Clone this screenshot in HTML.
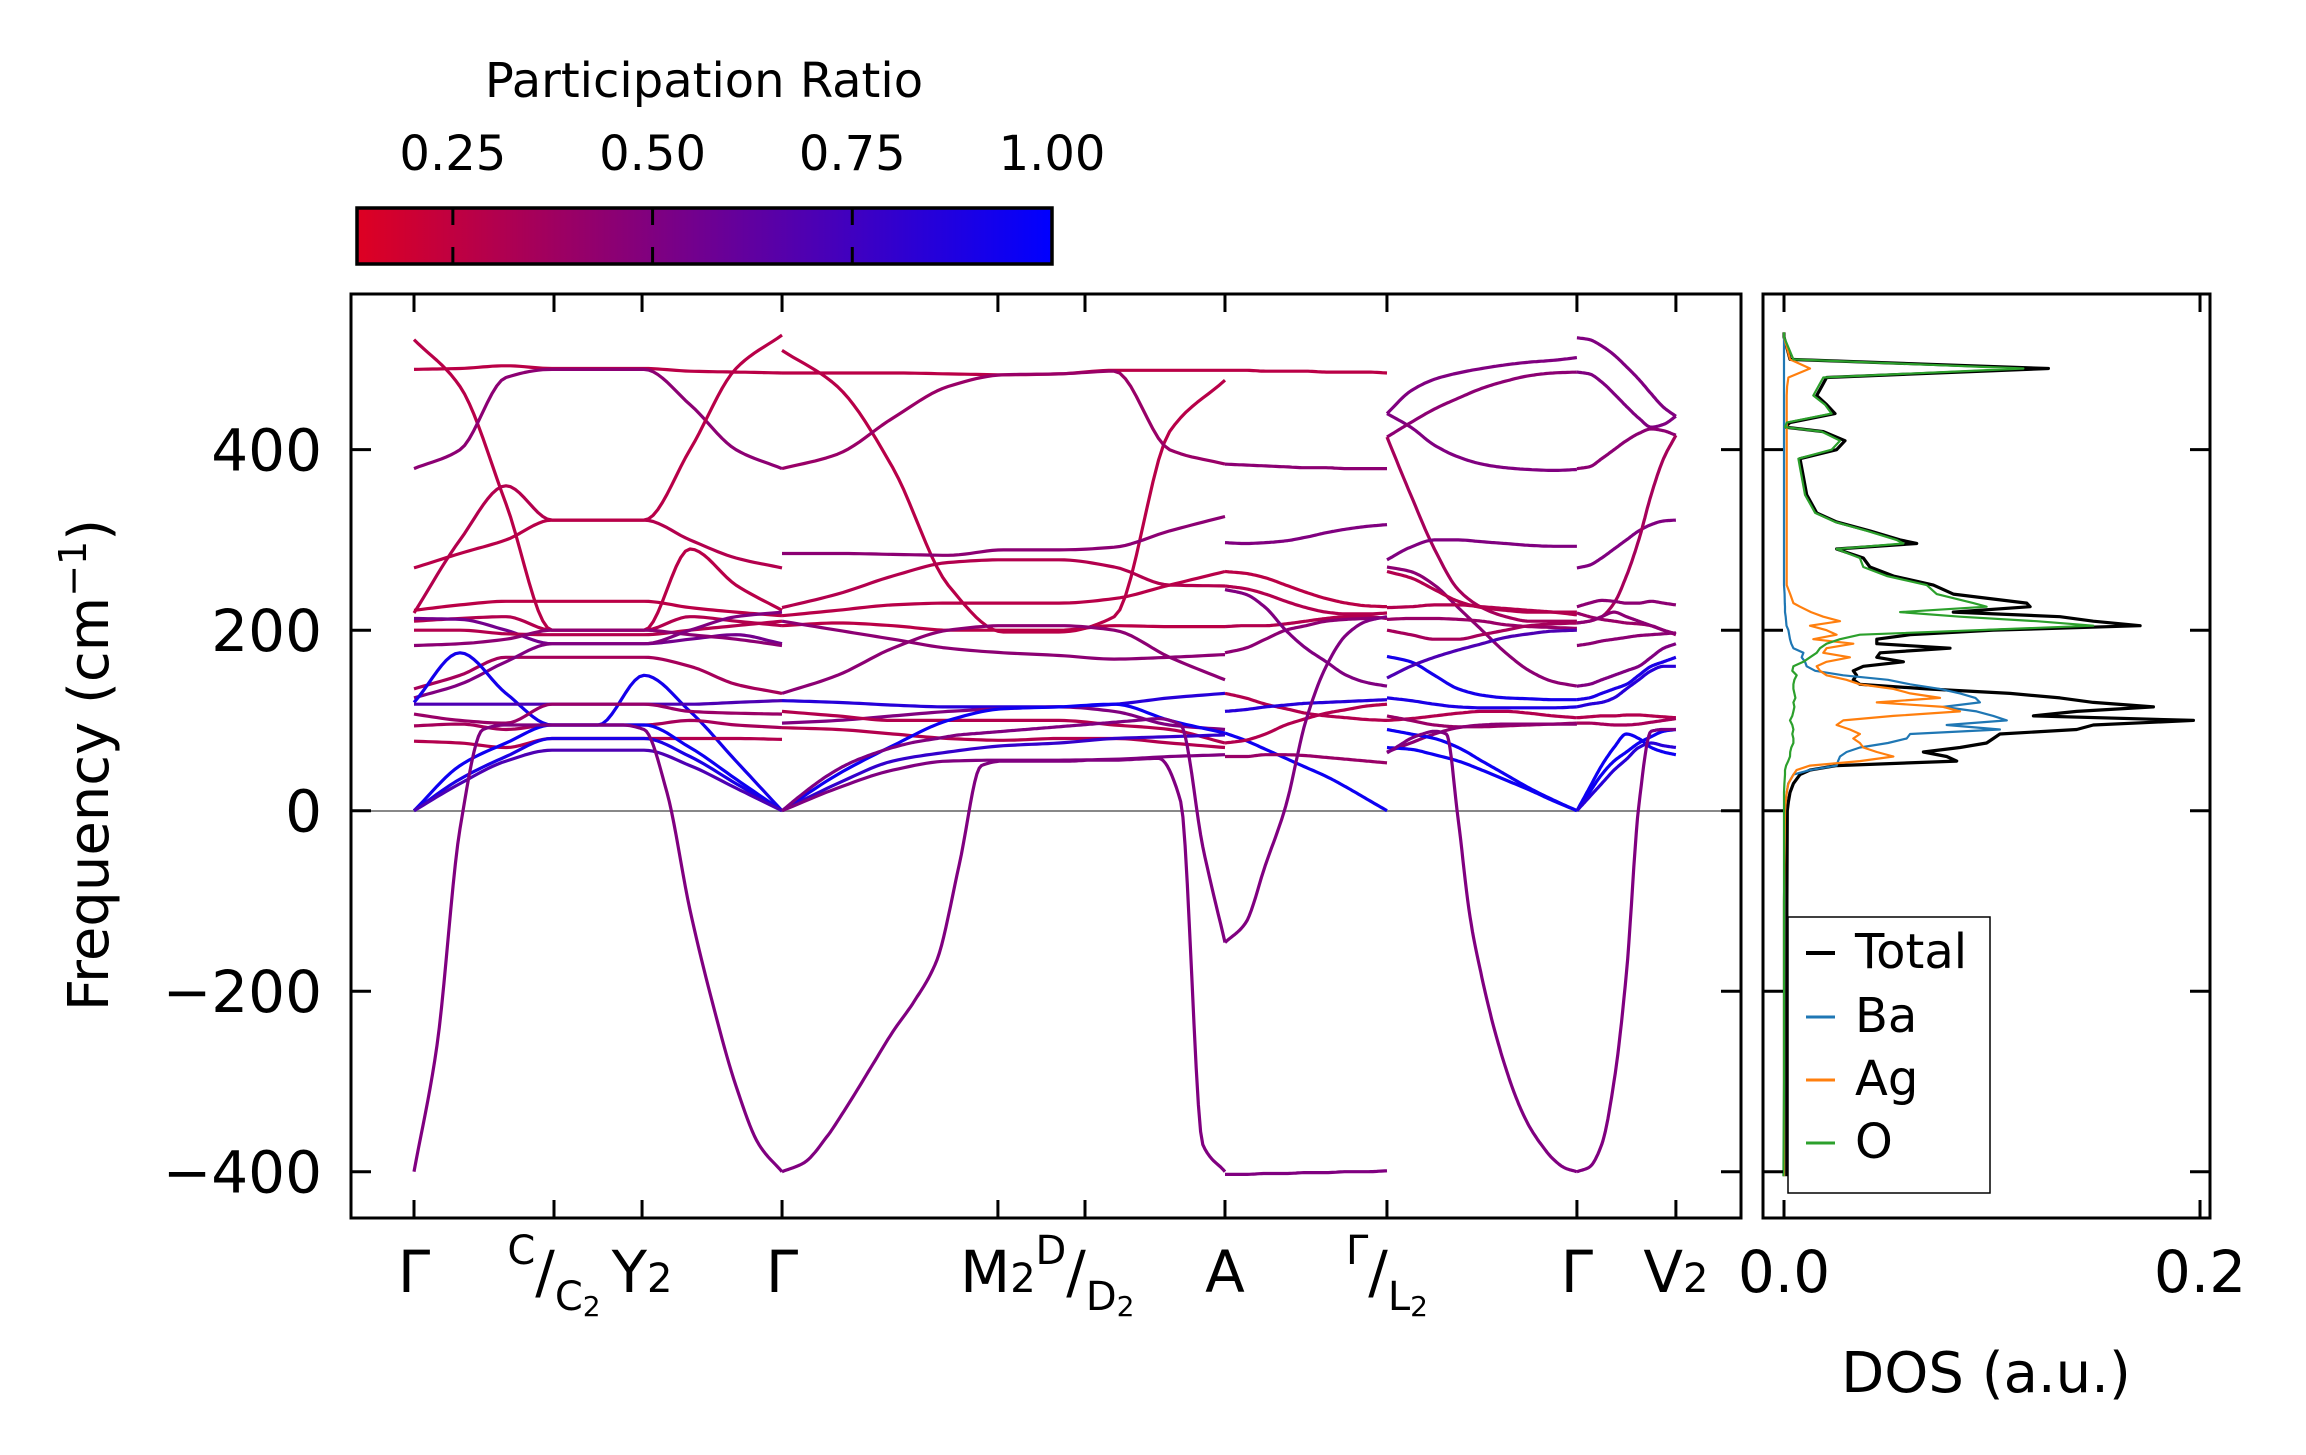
<!DOCTYPE html>
<html><head><meta charset="utf-8">
<style>
html,body{margin:0;padding:0;background:#fff;}
svg{display:block;font-family:"DejaVu Sans","Liberation Sans",sans-serif;}
</style></head>
<body>
<svg id="fig" xmlns="http://www.w3.org/2000/svg" width="2306" height="1455" viewBox="0 0 2306 1455">
<rect x="0" y="0" width="2306" height="1455" fill="#fff"/>
<defs>
<linearGradient id="cbgrad" x1="0" x2="1" y1="0" y2="0"></linearGradient>
<clipPath id="mainclip"><rect x="351" y="294" width="1390" height="924"/></clipPath>
<clipPath id="dosclip"><rect x="1763" y="294" width="447" height="924"/></clipPath>
</defs>
<g id="colorbar">
<text x="704" y="97" font-size="48" text-anchor="middle">Participation Ratio</text>
<rect x="357" y="208" width="695" height="56" fill="url(#cbgrad)" stroke="#000" stroke-width="3.5"/>
<g id="cbticks"></g>
</g>
<g id="main">
<line x1="351" x2="1741" y1="811" y2="811" stroke="#888" stroke-width="2"/>
<g id="bands" clip-path="url(#mainclip)"></g>
<rect x="351" y="294" width="1390" height="924" fill="none" stroke="#000" stroke-width="3"/>
<g id="mainticks"></g>
<text transform="translate(108,765) rotate(-90)" font-size="56" text-anchor="middle">Frequency (cm<tspan dy="-22" font-size="38">−1</tspan><tspan dy="22">)</tspan></text>
</g>
<g id="dos">
<g id="doslines" clip-path="url(#dosclip)"></g>
<rect x="1763" y="294" width="447" height="924" fill="none" stroke="#000" stroke-width="3"/>
<g id="dosticks"></g>
<text x="1986" y="1392" font-size="56" text-anchor="middle">DOS (a.u.)</text>
<g id="legend">
<rect x="1788" y="917" width="202" height="276" fill="#fff" stroke="#000" stroke-width="1.5"/>
</g>
</g>
</svg>
<script>
// ---------- data ----------
const tickK = [0, 1.0, 1.629, 2.629, 4.171, 4.793, 5.793, 6.95, 8.307, 9.014];
const kRange = [-0.45, 9.479];
const fRange = [-451.3, 572.5];
const yTicks = [-400, -200, 0, 200, 400];
const yTickLabels = ["−400", "−200", "0", "200", "400"];
const cbTicks = [0.25, 0.50, 0.75, 1.00];
const cbTickLabels = ["0.25", "0.50", "0.75", "1.00"];
const prRange = [0.13, 1.0];
const dosTicks = [0.0, 0.2];
const dosTickLabels = ["0.0", "0.2"];
const dosRange = [-0.0101, 0.2048];
// segment = [startTickIndex, endTickIndex]
const segments = [[0,3],[3,6],[6,7],[7,8],[8,9]];

// bands: seg index, participation ratio, frequencies (uniform samples along segment)
const bandSeg = [];
const bandPR = [];
const bandVals = [];
function B(s, pr, v){ bandSeg.push(s); bandPR.push(pr); bandVals.push(v); }
// segment 0 : Γ - C - Y2 - Γ
B(0,.28,[522,470,340,200,200,200,290,250,222]);
B(0,.27,[489,490,493,490,490,490,487,486,485]);
B(0,.45,[379,400,480,489,489,489,450,400,379]);
B(0,.30,[219,300,360,322,322,322,300,280,269]);
B(0,.28,[269,285,300,322,322,322,400,490,527]);
B(0,.27,[222,228,232,232,232,232,225,220,216]);
B(0,.30,[210,213,215,200,200,200,215,210,205]);
B(0,.55,[213,212,200,185,185,185,190,195,185]);
B(0,.30,[200,200,196,195,195,195,200,205,210]);
B(0,.45,[183,185,190,200,200,200,195,190,183]);
B(0,.35,[135,150,170,170,170,170,160,140,130]);
B(0,.50,[125,140,165,185,185,185,200,215,220]);
B(0,.92,[120,175,130,95,95,150,110,55,0]);
B(0,.70,[118,118,118,118,118,118,118,120,122]);
B(0,.40,[107,100,97,118,118,118,110,108,107]);
B(0,.35,[94,96,90,95,95,95,100,95,92]);
B(0,.30,[77,75,70,80,80,80,80,80,79]);
B(0,.95,[0,50,75,95,95,95,70,35,0]);
B(0,.90,[0,35,60,80,80,80,60,30,0]);
B(0,.70,[0,30,55,67,67,67,50,25,0]);
B(0,.50,[-400,-260,-20,90,95,95,95,95,95,95,90,20,-110,-215,-305,-370,-400]);
// segment 1 : Γ - M2 - D2 - A
B(1,.27,[485,485,485,484,483,484,488,488,488]);
B(1,.28,[510,470,380,250,198,198,215,420,477]);
B(1,.40,[379,395,435,470,483,484,487,400,384]);
B(1,.45,[285,285,284,283,289,289,292,310,326]);
B(1,.30,[225,240,260,275,278,278,270,250,249]);
B(1,.28,[216,222,228,230,230,230,235,250,265]);
B(1,.27,[205,208,205,200,200,200,205,204,204]);
B(1,.45,[210,200,190,180,175,172,168,170,173]);
B(1,.45,[130,150,180,200,205,205,200,170,145]);
B(1,.85,[122,120,117,115,115,115,118,125,130]);
B(1,.50,[97,100,105,110,113,115,110,95,90]);
B(1,.30,[110,105,100,100,100,100,95,90,75]);
B(1,.30,[92,90,85,80,78,80,80,75,70]);
B(1,.95,[0,40,72,100,113,115,118,100,86]);
B(1,.80,[0,30,55,65,72,75,80,82,84]);
B(1,.50,[0,25,45,55,56,56,57,60,62]);
B(1,.50,[-400,-390,-362,-325,-285,-245,-210,-165,-60,50,55,55,55,55,56,56,57,58,10,-370,-400]);
B(1,.50,[0,20,38,52,62,70,76,80,84,86,88,90,92,94,96,98,100,102,95,-40,-146]);
// segment 2 : A - Γ
B(2,.27,[488,488,487,487,487,486,486,486,485]);
B(2,.45,[384,383,382,381,380,380,379,379,379]);
B(2,.50,[297,296,297,299,303,308,312,315,317]);
B(2,.27,[265,263,258,250,242,235,230,227,226]);
B(2,.30,[249,246,240,232,225,220,218,218,219]);
B(2,.30,[204,205,205,207,210,213,215,215,213]);
B(2,.45,[175,180,190,200,205,210,212,213,214]);
B(2,.50,[245,240,225,200,180,165,150,142,138]);
B(2,.30,[130,125,118,113,108,105,103,101,100]);
B(2,.95,[86,78,68,58,48,38,26,13,0]);
B(2,.85,[110,112,115,117,119,120,121,122,123]);
B(2,.30,[75,78,85,95,102,108,112,116,118]);
B(2,.40,[60,60,62,62,61,59,57,55,53]);
B(2,.50,[-403,-403,-402,-402,-401,-401,-400,-400,-399]);
B(2,.50,[-146,-125,-60,5,100,160,195,210,215]);
// segment 3 : L2 - Γ
B(3,.50,[440,465,478,485,490,494,497,499,502]);
B(3,.50,[440,425,405,392,384,380,378,377,378]);
B(3,.45,[414,430,445,457,468,476,482,485,486]);
B(3,.35,[414,350,290,245,225,215,210,210,210]);
B(3,.50,[278,292,300,300,298,296,294,293,293]);
B(3,.45,[270,265,250,225,200,175,155,143,138]);
B(3,.30,[265,258,245,232,225,222,220,220,220]);
B(3,.30,[225,226,228,228,226,224,222,220,217]);
B(3,.40,[212,213,213,212,210,206,204,203,202]);
B(3,.35,[200,195,190,190,195,200,205,207,208]);
B(3,.92,[171,165,150,135,128,125,124,123,123]);
B(3,.70,[147,160,170,178,185,192,196,199,200]);
B(3,.90,[125,122,118,115,114,114,114,114,115]);
B(3,.30,[100,102,105,108,110,110,108,105,103]);
B(3,.40,[105,100,95,93,93,94,95,96,97]);
B(3,.45,[65,75,85,92,95,96,96,96,96]);
B(3,.95,[90,85,80,70,55,40,25,12,0]);
B(3,.95,[70,68,62,55,45,34,23,11,0]);
B(3,.50,[64,72,80,85,88,85,-10,-118,-185,-240,-285,-322,-350,-370,-386,-396,-400]);
// segment 4 : Γ - V2
B(4,.50,[524,522,515,505,492,478,462,447,437]);
B(4,.50,[486,484,475,462,448,435,425,428,437]);
B(4,.45,[379,381,390,400,410,418,423,421,416]);
B(4,.50,[269,272,280,290,300,310,317,321,322]);
B(4,.35,[208,210,215,230,260,300,350,390,416]);
B(4,.45,[226,230,233,232,230,230,232,230,228]);
B(4,.40,[219,215,212,210,208,207,205,200,195]);
B(4,.45,[208,210,215,220,215,210,205,200,196]);
B(4,.45,[183,185,188,190,192,194,195,196,197]);
B(4,.50,[138,140,145,150,155,160,170,180,185]);
B(4,.90,[123,125,130,135,140,150,160,165,170]);
B(4,.85,[115,118,120,125,135,145,155,160,160]);
B(4,.30,[103,104,105,105,106,106,105,104,103]);
B(4,.35,[97,97,96,95,95,96,98,100,102]);
B(4,.95,[0,25,50,70,85,80,70,65,62]);
B(4,.95,[0,20,40,55,65,75,82,88,90]);
B(4,.85,[0,15,30,45,57,70,75,72,70]);
B(4,.50,[-400,-395,-370,-300,-180,5,88,90,90]);

// DOS data (frequency grid, cm^-1)
const dosFreq = [530,525,500,490,480,470,460,450,440,430,425,420,410,400,390,380,370,350,330,320,310,300,296,290,280,270,260,250,240,230,226,220,215,210,205,200,195,190,185,180,175,170,165,160,155,150,145,140,135,130,125,120,115,110,105,100,95,90,85,80,75,70,65,60,55,50,45,40,30,20,10,0,-100,-200,-300,-405];
const dosTotal = [0.0,0.0,0.0029,0.1271,0.0205,0.0181,0.0157,0.0205,0.0245,0.0029,0.0005,0.0189,0.0293,0.0253,0.0077,0.0085,0.0093,0.0109,0.0157,0.0253,0.0413,0.0558,0.0638,0.0253,0.0381,0.0413,0.0526,0.0718,0.0814,0.1167,0.1183,0.0814,0.1327,0.1487,0.1712,0.1006,0.0606,0.0446,0.0446,0.0798,0.0462,0.0446,0.0574,0.0381,0.0333,0.0349,0.0333,0.0365,0.0686,0.1087,0.1327,0.1487,0.1776,0.1407,0.1199,0.1968,0.1487,0.1407,0.1038,0.1006,0.0974,0.0846,0.0670,0.0782,0.0830,0.0253,0.0125,0.0077,0.0045,0.0029,0.0021,0.0016,0.0014,0.0013,0.0013,0.0013];
const dosBa = [0.0,0.0,0.0,0.0,0.0,0.0,0.0,0.0,0.0,0.0,0.0,0.0,0.0,0.0,0.0,0.0,0.0,0.0,0.0,0.0,0.0,0.0,0.0,0.0,0.0,0.0,0.0,0.0,0.0003,0.0004,0.0005,0.0005,0.0008,0.0010,0.0012,0.0021,0.0025,0.0029,0.0035,0.0045,0.0093,0.0085,0.0101,0.0109,0.0150,0.0285,0.0500,0.0606,0.0750,0.0846,0.0920,0.0942,0.0766,0.0926,0.1006,0.1071,0.0782,0.1038,0.0606,0.0590,0.0500,0.0365,0.0301,0.0269,0.0260,0.0253,0.0125,0.0045,0.0020,0.0013,0.0008,0.0005,0.0,0.0,0.0,0.0];
const dosAg = [0.0,0.0,0.0029,0.0125,0.0021,0.0015,0.0013,0.0013,0.0013,0.0013,0.0013,0.0013,0.0013,0.0013,0.0013,0.0013,0.0013,0.0013,0.0013,0.0013,0.0013,0.0013,0.0013,0.0013,0.0013,0.0013,0.0013,0.0013,0.0030,0.0045,0.0077,0.0130,0.0189,0.0269,0.0125,0.0205,0.0253,0.0141,0.0333,0.0205,0.0189,0.0317,0.0205,0.0157,0.0173,0.0205,0.0300,0.0365,0.0526,0.0606,0.0750,0.0446,0.0766,0.0846,0.0526,0.0285,0.0253,0.0317,0.0365,0.0333,0.0365,0.0381,0.0446,0.0526,0.0365,0.0125,0.0060,0.0045,0.0021,0.0013,0.0008,0.0005,0.0,0.0,0.0,0.0];
const dosO = [0.0,0.0,0.0045,0.1151,0.0189,0.0165,0.0141,0.0197,0.0229,0.0013,0.0005,0.0181,0.0269,0.0229,0.0069,0.0077,0.0085,0.0101,0.0150,0.0245,0.0400,0.0541,0.0574,0.0253,0.0365,0.0381,0.0494,0.0686,0.0734,0.0910,0.0974,0.0558,0.0846,0.1215,0.1487,0.0926,0.0365,0.0269,0.0205,0.0173,0.0157,0.0125,0.0093,0.0045,0.0040,0.0061,0.0050,0.0045,0.0045,0.0050,0.0055,0.0045,0.0050,0.0045,0.0040,0.0029,0.0040,0.0045,0.0040,0.0045,0.0045,0.0035,0.0030,0.0029,0.0020,0.0010,0.0005,0.0005,0.0002,0.0,0.0,0.0,0.0,0.0,0.0,-0.0003];
const legendLabels = ["Total","Ba","Ag","O"];
const legendColors = ["#000000","#1f77b4","#ff7f0e","#2ca02c"];

// ---------- scales ----------
const MX0=351, MX1=1741, Y0=294, Y1=1218, DX0=1763, DX1=2210, CB0=357, CB1=1052;
function xK(k){ return MX0 + (k-kRange[0])/(kRange[1]-kRange[0])*(MX1-MX0); }
function yF(f){ return Y0 + (fRange[1]-f)/(fRange[1]-fRange[0])*(Y1-Y0); }
function xD(d){ return DX0 + (d-dosRange[0])/(dosRange[1]-dosRange[0])*(DX1-DX0); }
function xPR(p){ return CB0 + (p-prRange[0])/(prRange[1]-prRange[0])*(CB1-CB0); }
function cmap(p){
  let t=(p-prRange[0])/(prRange[1]-prRange[0]); t=Math.max(0,Math.min(1,t));
  const r=Math.round(222*(1-t)), b=Math.round(34+221*t);
  return `rgb(${r},0,${b})`;
}
const NS="http://www.w3.org/2000/svg";
function mk(tag, attrs, parent){ const e=document.createElementNS(NS,tag); for(const a in attrs) e.setAttribute(a,attrs[a]); parent.appendChild(e); return e; }

// monotone cubic interpolation
function monotone(xs, ys, n){
  const m=xs.length, d=[], s=[];
  for(let i=0;i<m-1;i++){ s.push((ys[i+1]-ys[i])/(xs[i+1]-xs[i])); }
  for(let i=0;i<m;i++){
    if(i===0) d.push(s[0]); else if(i===m-1) d.push(s[m-2]);
    else d.push(s[i-1]*s[i]<=0?0:(3*(s[i-1]+s[i]))/( (2*s[i]+s[i-1])/s[i-1]*0+ (s[i-1]+s[i])/ (s[i-1]*s[i]) * 0 + 3 ) * 0 + (2*s[i-1]*s[i])/(s[i-1]+s[i]));
  }
  const pts=[];
  for(let i=0;i<m-1;i++){
    const h=xs[i+1]-xs[i];
    for(let j=0;j<n;j++){
      const t=j/n, t2=t*t, t3=t2*t;
      const y=(2*t3-3*t2+1)*ys[i]+(t3-2*t2+t)*h*d[i]+(-2*t3+3*t2)*ys[i+1]+(t3-t2)*h*d[i+1];
      pts.push([xs[i]+t*h,y]);
    }
  }
  pts.push([xs[m-1],ys[m-1]]);
  return pts;
}

// colorbar gradient
const grad=document.getElementById('cbgrad');
for(let i=0;i<=10;i++){ const p=prRange[0]+(prRange[1]-prRange[0])*i/10; mk('stop',{offset:(i*10)+'%','stop-color':cmap(p)},grad); }
const cbt=document.getElementById('cbticks');
cbTicks.forEach((v,i)=>{
  const x=xPR(v);
  if(v<prRange[1]){
    const t1=mk('line',{x1:x,x2:x,y1:208,y2:225,stroke:'#000','stroke-width':3},cbt);
    
    
    const t2=mk('line',{x1:x,x2:x,y1:247,y2:264,stroke:'#000','stroke-width':3},cbt);
    
    
  }
  const tx=mk('text',{x:x,y:170,'font-size':48,'text-anchor':'middle'},cbt);
  tx.textContent=cbTickLabels[i];
  
  
});

// bands
const bg=document.getElementById('bands');
for(let b=0;b<bandVals.length;b++){
  const seg=segments[bandSeg[b]], v=bandVals[b];
  const k0=tickK[seg[0]], k1=tickK[seg[1]];
  const xs=v.map((_,i)=>xK(k0+(k1-k0)*i/(v.length-1)));
  const ys=v.map(f=>yF(f));
  const pts=monotone(xs,ys,10);
  const p=mk('polyline',{points:pts.map(q=>q[0].toFixed(1)+','+q[1].toFixed(1)).join(' '),fill:'none',stroke:cmap(bandPR[b]),'stroke-width':3.2,'stroke-linejoin':'round'},bg);
  
  
}

// main ticks
const mt=document.getElementById('mainticks');
tickK.forEach(k=>{
  const x=xK(k);
  const a=mk('line',{x1:x,x2:x,y1:Y0,y2:Y0+18,stroke:'#000','stroke-width':3},mt);
   
  const c=mk('line',{x1:x,x2:x,y1:Y1-18,y2:Y1,stroke:'#000','stroke-width':3},mt);
   
});
yTicks.forEach((f,i)=>{
  const y=yF(f);
  const a=mk('line',{x1:MX0,x2:MX0+20,y1:y,y2:y,stroke:'#000','stroke-width':3},mt);
   
  const c=mk('line',{x1:MX1-20,x2:MX1,y1:y,y2:y,stroke:'#000','stroke-width':3},mt);
   
  const t=mk('text',{x:322,y:y+21,'font-size':58,'text-anchor':'end'},mt);
  t.textContent=yTickLabels[i];
   
});
// high-symmetry labels (structured)
const symLabels=[
  {i:0,parts:[["Γ",58,0]]},
  {i:1,parts:[["C",40,-14],["/",58,14],["C",40,10],["2",28,8]]},
  {i:2,parts:[["Y",58,-18],["2",40,18]]},
  {i:3,parts:[["Γ",58,0]]},
  {i:4,parts:[["M",58,-18],["2",40,18]]},
  {i:5,parts:[["D",40,-14],["/",58,14],["D",40,10],["2",28,8]]},
  {i:6,parts:[["A",58,0]]},
  {i:7,parts:[["Γ",40,-14],["/",58,14],["L",40,10],["2",28,8]]},
  {i:8,parts:[["Γ",58,0]]},
  {i:9,parts:[["V",58,-18],["2",40,18]]}
];
symLabels.forEach(L=>{
  const x=xK(tickK[L.i]);
  const t=mk('text',{x:x,y:1292,'text-anchor':'middle'},mt);
   
  let cum=0;
  L.parts.forEach((p,j)=>{
    const ts=mk('tspan',{'font-size':p[1]},t);
    let dy=0;
    if(j===0){ dy = p[2]<0 ? (p[1]<58? -28:0) : 0; }
    else { dy = (L.parts[j-1][1]<58 && p[1]===58) ? 28 : (p[1]===40 && L.parts[j-1][1]===58 && L.parts[0][1]<58 ? 18 : (p[1]===28 ? 6 : (p[1]===40 && L.parts[0][1]===58 ? 0 : 0))); }
    cum+=dy;
    if(dy) ts.setAttribute('dy',dy);
    ts.textContent=p[0];
  });
});

// DOS
const dl=document.getElementById('doslines');
const dosSeries=[dosTotal,dosBa,dosAg,dosO];
const dosOrder=[0,1,2,3];
const dosW=[3.2,2.2,2.2,2.2];
dosOrder.forEach(s=>{
  const arr=dosSeries[s];
  const pts=arr.map((d,i)=>xD(d).toFixed(1)+','+yF(dosFreq[i]).toFixed(1)).join(' ');
  const p=mk('polyline',{points:pts,fill:'none',stroke:legendColors[s],'stroke-width':dosW[s],'stroke-linejoin':'round'},dl);
  
  
});
const dt=document.getElementById('dosticks');
dosTicks.forEach((d,i)=>{
  const x=xD(d);
  const a=mk('line',{x1:x,x2:x,y1:Y0,y2:Y0+18,stroke:'#000','stroke-width':3},dt);
   
  const c=mk('line',{x1:x,x2:x,y1:Y1-18,y2:Y1,stroke:'#000','stroke-width':3},dt);
   
  const t=mk('text',{x:x,y:1292,'font-size':58,'text-anchor':'middle'},dt);
  t.textContent=dosTickLabels[i];
   
});
yTicks.forEach(f=>{
  const y=yF(f);
  const a=mk('line',{x1:DX0,x2:DX0+20,y1:y,y2:y,stroke:'#000','stroke-width':3},dt);
   
  const c=mk('line',{x1:DX1-20,x2:DX1,y1:y,y2:y,stroke:'#000','stroke-width':3},dt);
   
});
const lg=document.getElementById('legend');
const legY=[968,1032,1095,1158];
legendLabels.forEach((lab,i)=>{
  const l=mk('line',{x1:1806,x2:1835,y1:legY[i]-15,y2:legY[i]-15,stroke:legendColors[i],'stroke-width':i===0?4:3},lg);
  
  
  const t=mk('text',{x:1855,y:legY[i],'font-size':48},lg);
  t.textContent=lab;
  
  
});
</script>
</body></html>
